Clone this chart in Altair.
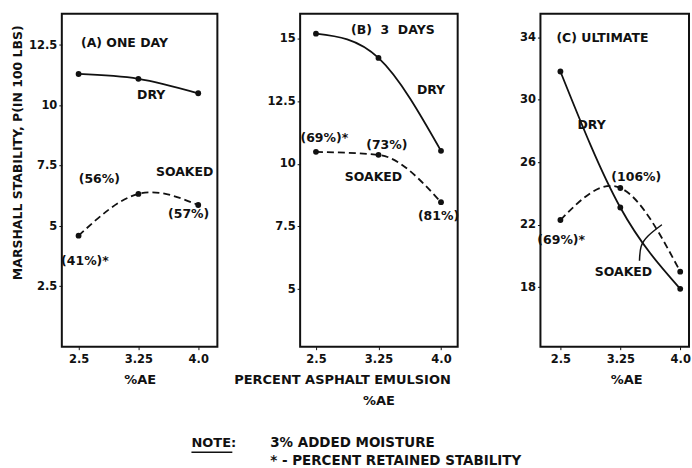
import altair as alt
import pandas as pd

# ---- data ----
AE = [2.5, 3.25, 4.0]
AE_LABELS = ["2.5", "3.25", "4.0"]

a_dry = [11.3, 11.1, 10.5]
a_soaked = [4.6, 6.33, 5.87]
b_dry = [15.2, 14.23, 10.52]
b_soaked = [10.48, 10.36, 8.47]
c_dry = [31.8, 23.1, 17.9]
c_soaked = [22.3, 24.35, 19.0]

a_yticks = [2.5, 5, 7.5, 10, 12.5]
b_yticks = [5, 7.5, 10, 12.5, 15]
c_yticks = [18, 22, 26, 30, 34]

# annotations (text, x in %AE, y in stability, alignment)
a_text = ["(A) ONE DAY", "DRY", "SOAKED", "(56%)", "(57%)", "(41%)*"]
a_tx = [2.53, 3.41, 3.83, 2.76, 3.88, 2.58]
a_ty = [12.6, 10.42, 7.25, 6.96, 5.5, 3.54]
a_al = ["left", "center", "center", "center", "center", "center"]

b_text = ["(B)\u00a0 3\u00a0 DAYS", "DRY", "(69%)*", "(73%)", "SOAKED", "(81%)"]
b_tx = [2.92, 3.88, 2.6, 3.35, 3.19, 3.97]
b_ty = [15.36, 12.94, 11.05, 10.77, 9.48, 7.9]
b_al = ["left", "center", "center", "center", "center", "center"]

c_text = ["(C) ULTIMATE", "DRY", "(106%)", "(69%)*", "SOAKED"]
c_tx = [2.45, 2.89, 3.45, 2.51, 3.29]
c_ty = [33.94, 28.4, 25.05, 21.0, 19.0]
c_al = ["left", "center", "center", "center", "center"]

# leader from "SOAKED" label to the soaked curve in panel C
c_lead_x = [3.49, 3.51, 3.6, 3.77]
c_lead_y = [19.7, 20.6, 21.3, 22.0]

FONT = "DejaVu Sans"
INK = "#111111"
label_expr = " : ".join(
    [f"datum.value == {v} ? '{l}'" for v, l in zip(AE[:-1], AE_LABELS[:-1])]
) + f" : '{AE_LABELS[-1]}'"


def panel(dry, soaked, xdom, ydom, yticks, width, texts, tx, ty, al,
          ytitle=None, xtitle="%AE", xtitle_x=None, extent=30, extra=None,
          soak_interp="natural"):
    dry_df = pd.DataFrame({"ae": AE, "val": dry})
    soak_df = pd.DataFrame({"ae": AE, "val": soaked})
    yaxis_kw = dict(values=yticks, format=".1~f", grid=False, domain=False,
                    tickColor=INK, tickSize=3, labelPadding=2, labelFont=FONT,
                    labelFontSize=11.5, labelFontWeight="bold", labelColor=INK,
                    minExtent=extent, maxExtent=extent)
    if ytitle:
        yaxis_kw.update(title=ytitle, titleFont=FONT, titleFontSize=12.5,
                        titleFontWeight="bold", titleColor=INK, titlePadding=7,
                        titleY=139)
    else:
        yaxis_kw.update(title=None)
    xaxis_kw = dict(values=AE, labelExpr=label_expr, grid=False,
                    domain=False, tickColor=INK, tickSize=3,
                    labelPadding=4, labelFont=FONT, labelFontSize=11.5,
                    labelFontWeight="bold", labelColor=INK,
                    title=xtitle, titleFont=FONT, titleFontSize=13,
                    titleFontWeight="bold", titleColor=INK, titlePadding=8)
    if xtitle_x is not None:
        xaxis_kw.update(titleX=xtitle_x)
    x = alt.X("ae:Q", scale=alt.Scale(domain=xdom, nice=False, zero=False),
              axis=alt.Axis(**xaxis_kw))
    y = alt.Y("val:Q", scale=alt.Scale(domain=ydom, nice=False, zero=False),
              axis=alt.Axis(**yaxis_kw))
    dry_line = alt.Chart(dry_df).mark_line(
        interpolate="natural", color=INK, strokeWidth=1.8).encode(x=x, y=y)
    soak_line = alt.Chart(soak_df).mark_line(
        interpolate=soak_interp, color=INK, strokeWidth=1.8,
        strokeDash=[7, 4]).encode(x="ae:Q", y="val:Q")
    dry_pts = alt.Chart(dry_df).mark_circle(size=34, color=INK, opacity=1).encode(
        x="ae:Q", y="val:Q")
    soak_pts = alt.Chart(soak_df).mark_circle(size=34, color=INK, opacity=1).encode(
        x="ae:Q", y="val:Q")
    layers = [dry_line, soak_line, dry_pts, soak_pts]
    tdf = pd.DataFrame({"ae": tx, "val": ty, "t": texts, "al": al})
    for a in ["left", "center"]:
        sub = tdf[tdf["al"] == a]
        if len(sub):
            layers.append(alt.Chart(sub).mark_text(
                align=a, baseline="middle", font=FONT, fontSize=12.5,
                fontWeight="bold", color=INK).encode(
                x="ae:Q", y="val:Q", text="t:N"))
    if extra is not None:
        layers += extra
    return alt.layer(*layers).properties(width=width, height=334)


lead = alt.Chart(pd.DataFrame({"ae": c_lead_x, "val": c_lead_y})).mark_line(
    interpolate="natural", color=INK, strokeWidth=1.5).encode(x="ae:Q", y="val:Q")


def free_text(txt, x, y, size=13.5, align="left"):
    return alt.Chart(pd.DataFrame({"t": [txt]})).mark_text(
        align=align, baseline="middle", font=FONT, fontSize=size,
        fontWeight="bold", color=INK).encode(
        x=alt.value(x), y=alt.value(y), text="t:N")


# second line of the middle x title and the note block under the middle panel
b_title2 = free_text("%AE", 79, 388, size=13, align="center")
note = free_text("NOTE:", -109, 431, size=13)
note_rule = alt.Chart(pd.DataFrame({"t": ["NOTE:"]})).mark_rule(
    color=INK, strokeWidth=1.5).encode(
    x=alt.value(-109), x2=alt.value(-68), y=alt.value(440))
note1 = free_text("3% ADDED MOISTURE", -30, 431)
note2 = free_text("* - PERCENT RETAINED STABILITY", -30, 449)

pa = panel(a_dry, a_soaked, [2.29, 4.24], [0.0, 13.8], a_yticks, 156,
           a_text, a_tx, a_ty, a_al,
           ytitle="MARSHALL STABILITY, P(IN 100 LBS)", extent=30)
pb = panel(b_dry, b_soaked, [2.31, 4.2], [2.7, 16.0], b_yticks, 158,
           b_text, b_tx, b_ty, b_al,
           xtitle="PERCENT ASPHALT EMULSION", xtitle_x=42, extent=30,
           extra=[b_title2, note, note_rule, note1, note2],
           soak_interp="monotone")
pc = panel(c_dry, c_soaked, [2.25, 4.11], [14.2, 35.5], c_yticks, 149,
           c_text, c_tx, c_ty, c_al, xtitle_x=86, extent=30, extra=[lead])

chart = alt.hconcat(pa, pb, pc, spacing=83, bounds="flush").configure_view(
    stroke=INK, strokeWidth=2
).properties(
    padding={"left": 10, "top": 12, "right": 0, "bottom": 0},
    background="white",
)

chart.save("out.html", embed_options={"renderer": "svg", "actions": False})
